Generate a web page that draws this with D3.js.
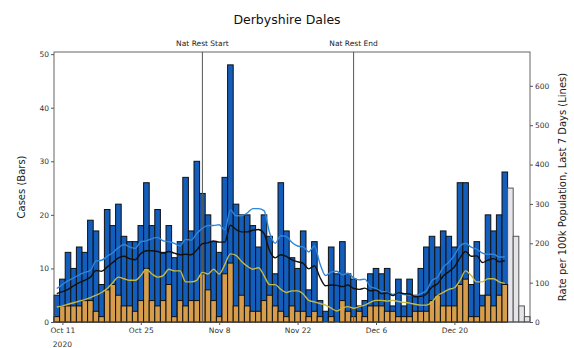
<!DOCTYPE html>
<html><head><meta charset="utf-8">
<script src="https://cdn.jsdelivr.net/npm/d3@7"></script>
<style>body{margin:0;background:#fff;}svg{display:block;font-family:"DejaVu Sans",sans-serif;}</style>
</head><body><svg id="c" width="574" height="348"></svg>
<script>
const chartTitle = "Derbyshire Dales";
const startDate = "2020-10-10";
// daily cases (bars), Oct 10 2020 .. Jan 2 2021
const cases = [5,8,13,10,14,13,19,17,7,21,18,22,16,15,15,18,26,
  18,21,13,18,12,15,27,17,30,24,20,15,13,27,48,22,20,20,18,
  14,20,16,9,26,17,12,10,17,6,15,4,2,14,9,
  15,9,8,3,4,
  9,10,9,10,3,8,3,8,5,10,14,16,14,17,16,14,26,26,7,15,5,20,17,20,28,25,16,3,1];
// cases aged 60+ (orange bars), complete days only
const cases60 = [1,3,3,3,3,4,4,2,1,6,7,5,3,3,2,4,10,
  4,3,4,7,1,4,3,4,4,9,6,4,1,9,11,3,5,3,2,
  2,4,5,3,2,1,3,2,2,1,2,1,0,1,0,
  4,2,1,2,1,
  3,3,3,2,2,1,1,1,2,2,2,4,5,3,3,3,7,8,1,1,3,5,3,5,7];
const firstIncomplete = 81;
// 7-day rates per 100k (lines)
const rateAll = [72,77,83,92,100,106,114,131,129,140,151,163,167,161,158,174,181,181,179,175,
  179,175,171,172,171,183,199,201,206,203,203,246,235,229,229,233,235,225,181,163,
  171,167,158,153,149,135,143,113,92,94,93,90,94,85,83,86,79,81,72,74,
  67,74,72,71,64,65,71,89,97,117,128,140,163,179,167,168,151,157,161,153,156];
const rateUnder60 = [85,95,105,112,120,126,
  131,155,157,167,176,189,197,191,187,204,206,212,215,206,204,200,193,210,208,225,
  238,245,245,247,234,285,270,270,277,288,288,283,227,200,219,217,202,193,191,178,
  193,148,118,127,129,120,124,112,107,109,
  90,85,78,76,70,72,70,68,66,72,80,105,114,139,152,170,193,200,190,185,175,172,172,165,165];
const rate60 = [38,41,45,49,53,57,62,68,75,85,100,
  114,110,106,106,118,134,122,114,118,134,130,130,102,102,106,126,122,134,122,146,
  173,169,154,142,134,138,118,95,95,83,75,79,79,71,55,51,47,43,35,28,35,39,35,39,43,
  50,55,55,53,55,52,50,48,45,43,43,51,67,75,83,87,106,130,118,102,102,110,110,102,98];
const leftTicks = [0,10,20,30,40,50];
const rightTicks = [0,100,200,300,400,500,600];
const xTickDates = ["2020-10-11","2020-10-25","2020-11-08","2020-11-22","2020-12-06","2020-12-20"];
const eventDates = ["2020-11-05","2020-12-02"];
const eventLabels = ["Nat Rest Start","Nat Rest End"];

const W = 574, H = 348;
const m = {l:54, r:44, t:52, b:26};
const svg = d3.select("#c");
const parse = d3.utcParse("%Y-%m-%d");
const d0 = parse(startDate);
const day = i => d3.utcDay.offset(d0, i);
const x = d3.scaleUtc()
  .domain([d3.utcHour.offset(d0, -12), d3.utcHour.offset(d0, (cases.length - 1) * 24 + 12)])
  .range([m.l, W - m.r]);
const yL = d3.scaleLinear().domain([0, 50.4]).range([H - m.b, m.t]);
const yR = d3.scaleLinear().domain([0, 686]).range([H - m.b, m.t]);
const bw = x(day(1)) - x(day(0));

// bars
const g = svg.append("g");
g.selectAll("rect.tot").data(cases).join("rect")
  .attr("x", (d,i) => x(day(i)) - bw/2).attr("width", bw)
  .attr("y", d => yL(d)).attr("height", d => yL(0) - yL(d))
  .attr("fill", (d,i) => i >= firstIncomplete ? "#e4e4ea" : "#135dbb")
  .attr("stroke", (d,i) => i >= firstIncomplete ? "#555" : "#111")
  .attr("stroke-width", 1);
g.selectAll("rect.o").data(cases60).join("rect")
  .attr("x", (d,i) => x(day(i)) - bw/2).attr("width", bw)
  .attr("y", d => yL(d)).attr("height", d => yL(0) - yL(d))
  .attr("fill", "#d69d4d").attr("stroke", "#111").attr("stroke-width", 1);

// event lines
eventDates.forEach((ds, k) => {
  const xx = x(parse(ds));
  svg.append("line").attr("x1", xx).attr("x2", xx).attr("y1", m.t).attr("y2", H - m.b)
    .attr("stroke", "#555").attr("stroke-width", 1);
  svg.append("text").attr("x", xx).attr("y", m.t - 6).attr("text-anchor", "middle")
    .attr("font-size", 7.5).attr("fill", "#222").text(eventLabels[k]);
});

// lines
const ln = d3.line().x((d,i) => x(day(i))).y(d => yR(d)).curve(d3.curveMonotoneX);
[[rateUnder60, "#2f86dc"], [rateAll, "#111"], [rate60, "#c6b944"]].forEach(([arr, col]) => {
  svg.append("path").datum(arr).attr("d", ln).attr("fill", "none")
    .attr("stroke", col).attr("stroke-width", 1.4);
});

// frame
svg.append("rect").attr("x", m.l).attr("y", m.t).attr("width", W - m.l - m.r).attr("height", H - m.t - m.b)
  .attr("fill", "none").attr("stroke", "#555").attr("stroke-width", 0.9);

// axes
const axL = svg.append("g").attr("transform", `translate(${m.l},0)`)
  .call(d3.axisLeft(yL).tickValues(leftTicks).tickSize(3).tickPadding(2));
const axR = svg.append("g").attr("transform", `translate(${W - m.r},0)`)
  .call(d3.axisRight(yR).tickValues(rightTicks).tickSize(3).tickPadding(2));
const axB = svg.append("g").attr("transform", `translate(0,${H - m.b})`)
  .call(d3.axisBottom(x).tickValues(xTickDates.map(parse)).tickFormat(d3.utcFormat("%b %-d")).tickSize(3).tickPadding(3));
[axL, axR, axB].forEach(a => {
  a.select(".domain").remove();
  a.selectAll("line").attr("stroke", "#555");
  a.selectAll("text").attr("font-size", 7.5).attr("fill", "#333").attr("font-family", "DejaVu Sans, sans-serif");
});
svg.append("text").attr("x", x(parse(xTickDates[0]))).attr("y", 347).attr("text-anchor", "middle")
  .attr("font-size", 7.5).attr("fill", "#333").text("2020");

// titles
svg.append("text").attr("x", 287).attr("y", 24).attr("text-anchor", "middle")
  .attr("font-size", 12.5).attr("fill", "#111").text(chartTitle);
svg.append("text").attr("transform", `translate(25,${(m.t + H - m.b)/2}) rotate(-90)`)
  .attr("text-anchor", "middle").attr("font-size", 10).attr("fill", "#222").text("Cases (Bars)");
svg.append("text").attr("transform", `translate(566,${(m.t + H - m.b)/2}) rotate(-90)`)
  .attr("text-anchor", "middle").attr("font-size", 10).attr("fill", "#222").text("Rate per 100k Population, Last 7 Days (Lines)");
</script></body></html>
